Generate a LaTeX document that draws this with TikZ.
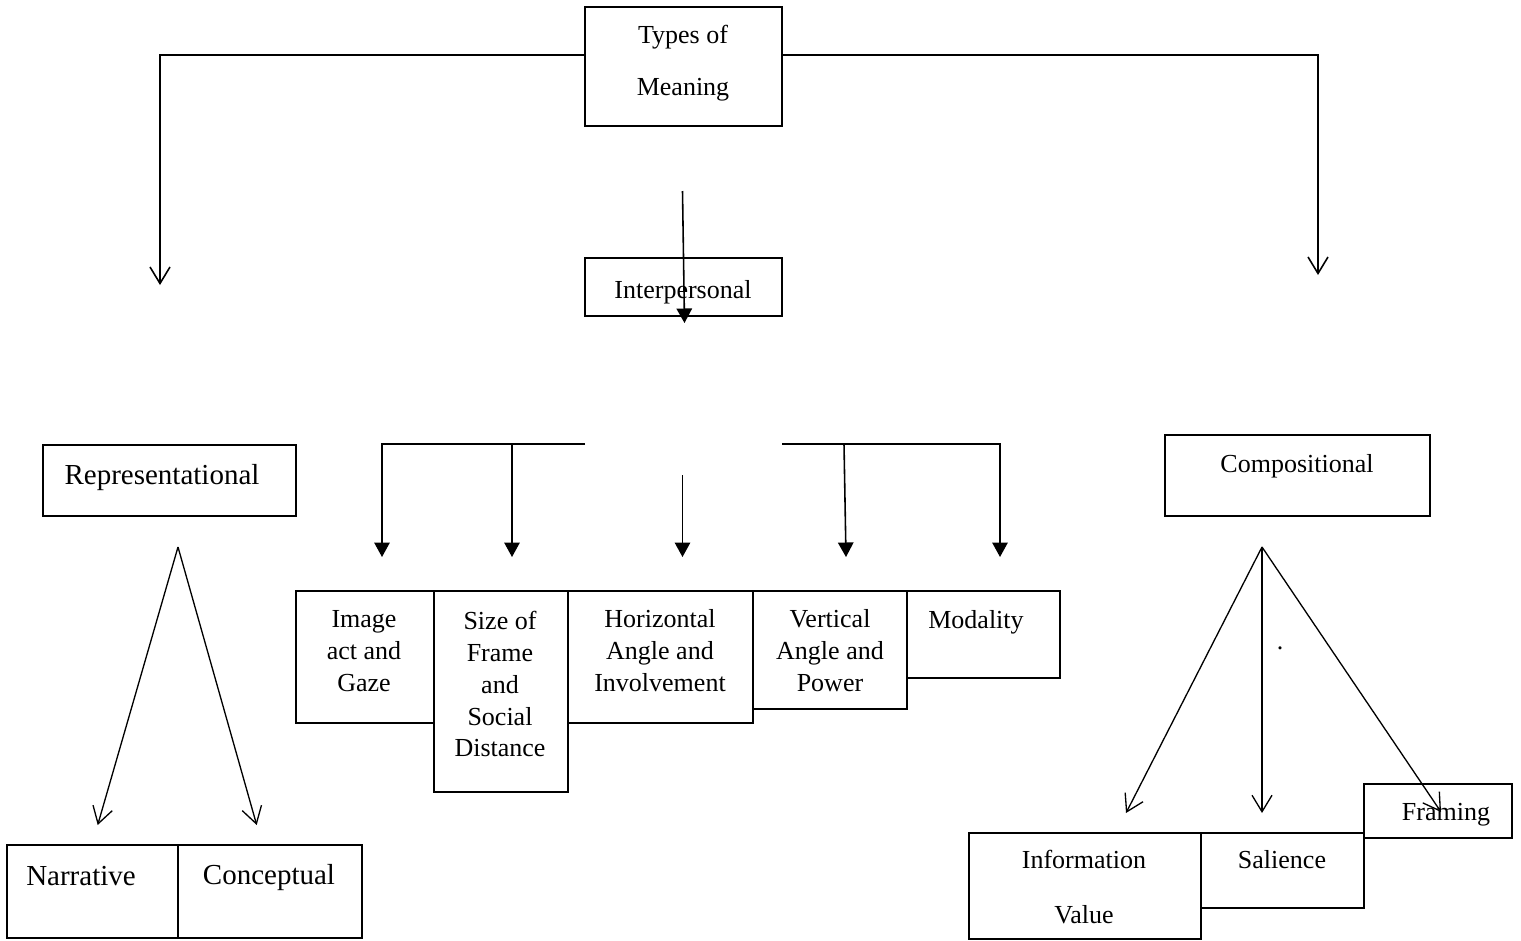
\documentclass[tikz,border=0pt]{standalone}
\usepackage{fontspec}
\setmainfont{Liberation Serif}
\usetikzlibrary{arrows.meta,fit}
\begin{document}
\begin{tikzpicture}[x=0.02cm,y=-0.02cm,
  box/.style={draw, line width=1.1pt, inner sep=0pt},
  lbl/.style={font=\fontsize{14.8}{18.2}\selectfont, align=center, inner sep=0pt},
  big/.style={font=\fontsize{16.5}{20}\selectfont, inner sep=0pt},
  conn/.style={line width=0.9pt},
  thin/.style={line width=0.75pt},
  openarr/.style={-{Straight Barb[length=0.33cm,width=0.4cm]}},
  fillarr/.style={conn, -{Triangle[length=0.29cm,width=0.31cm]}}]
\useasboundingbox (0,0) rectangle (1521,940);

% boxes
\node[box, fit={(585,7) (782,126)}] (tm) {};
\node[box, fit={(585,258) (782,316)}] (ip) {};
\node[box, fit={(43,445) (296,516)}] (rep) {};
\node[box, fit={(1165,435) (1430,516)}] (comp) {};
\node[box, fit={(296,591) (434,723)}] (img) {};
\node[box, fit={(434,591) (568,792)}] (size) {};
\node[box, fit={(568,591) (753,723)}] (horiz) {};
\node[box, fit={(753,591) (907,709)}] (vert) {};
\node[box, fit={(907,591) (1060,678)}] (moda) {};
\node[box, fit={(7,845) (178,938)}] (narr) {};
\node[box, fit={(178,845) (362,938)}] (conc) {};
\node[box, fit={(1364,784) (1512,838)}] (fram) {};
\node[box, fit={(969,833) (1201,939)}] (info) {};
\node[box, fit={(1201,833) (1364,908)}] (sal) {};

% texts
\node[lbl, font=\fontsize{14.8}{29.6}\selectfont] (tmT) at (683,63) {Types of\\Meaning};
\node[lbl] (ipT) at (683,292) {Interpersonal};
\node[big] (repT) at (162,478) {Representational};
\node[lbl] (compT) at (1297,466) {Compositional};
\node[lbl] (imgT) at (364,651) {Image\\act and\\Gaze};
\node[lbl] (sizeT) at (500,684) {Size of\\Frame\\and\\Social\\Distance};
\node[lbl] (horizT) at (660,651) {Horizontal\\Angle and\\Involvement};
\node[lbl] (vertT) at (830,651) {Vertical\\Angle and\\Power};
\node[lbl] (modaT) at (976,622) {Modality};
\node[big] (narrT) at (81,876) {Narrative};
\node[big] (concT) at (269,878) {Conceptual};
\node[lbl, font=\fontsize{14.8}{31.2}\selectfont] (infoT) at (1084,887) {Information\\Value};
\node[lbl] (salT) at (1282,860) {Salience};
\node[lbl] (framT) at (1446,815) {Framing};
\node[lbl] (dot) at (1280,648) {.};

% free ends
\coordinate (repA) at (160,285);
\coordinate (compA) at (1318,275);
\coordinate (ipS) at (682.5,191);
\coordinate (ipE) at (684.5,323);
\coordinate (brL) at (585,444);
\coordinate (brR) at (782,444);
\coordinate (aImg) at (382,557);
\coordinate (jSize) at (512,444);
\coordinate (aSize) at (512,557);
\coordinate (hS) at (682.5,475);
\coordinate (aHor) at (682.5,557);
\coordinate (jVert) at (844,444);
\coordinate (aVert) at (846,557);
\coordinate (aMod) at (1000,557);
\coordinate (repApex) at (178,547);
\coordinate (aNarr) at (97.7,825);
\coordinate (aConc) at (256.7,825);
\coordinate (compApex) at (1262,547);
\coordinate (aInfo) at (1126,813);
\coordinate (aSal) at (1262,813);
\coordinate (aFram) at (1441,812);

% connectors
\draw[conn, openarr] ([yshift=0.23cm]tm.west) -| (repA);
\draw[conn, openarr] ([yshift=0.23cm]tm.east) -| (compA);
\draw[fillarr] (ipS) -- (ipE);
\draw[fillarr] (brL) -| (aImg);
\draw[fillarr] (jSize) -- (aSize);
\draw[fillarr] (hS) -- (aHor);
\draw[fillarr] (brR) -| (aMod);
\draw[fillarr] (jVert) -- (aVert);
\draw[thin, openarr] (repApex) -- (aNarr);
\draw[thin, openarr] (repApex) -- (aConc);
\draw[thin, openarr] (compApex) -- (aInfo);
\draw[thin, openarr] (compApex) -- (aSal);
\draw[thin, openarr] (compApex) -- (aFram);
\end{tikzpicture}
\end{document}
